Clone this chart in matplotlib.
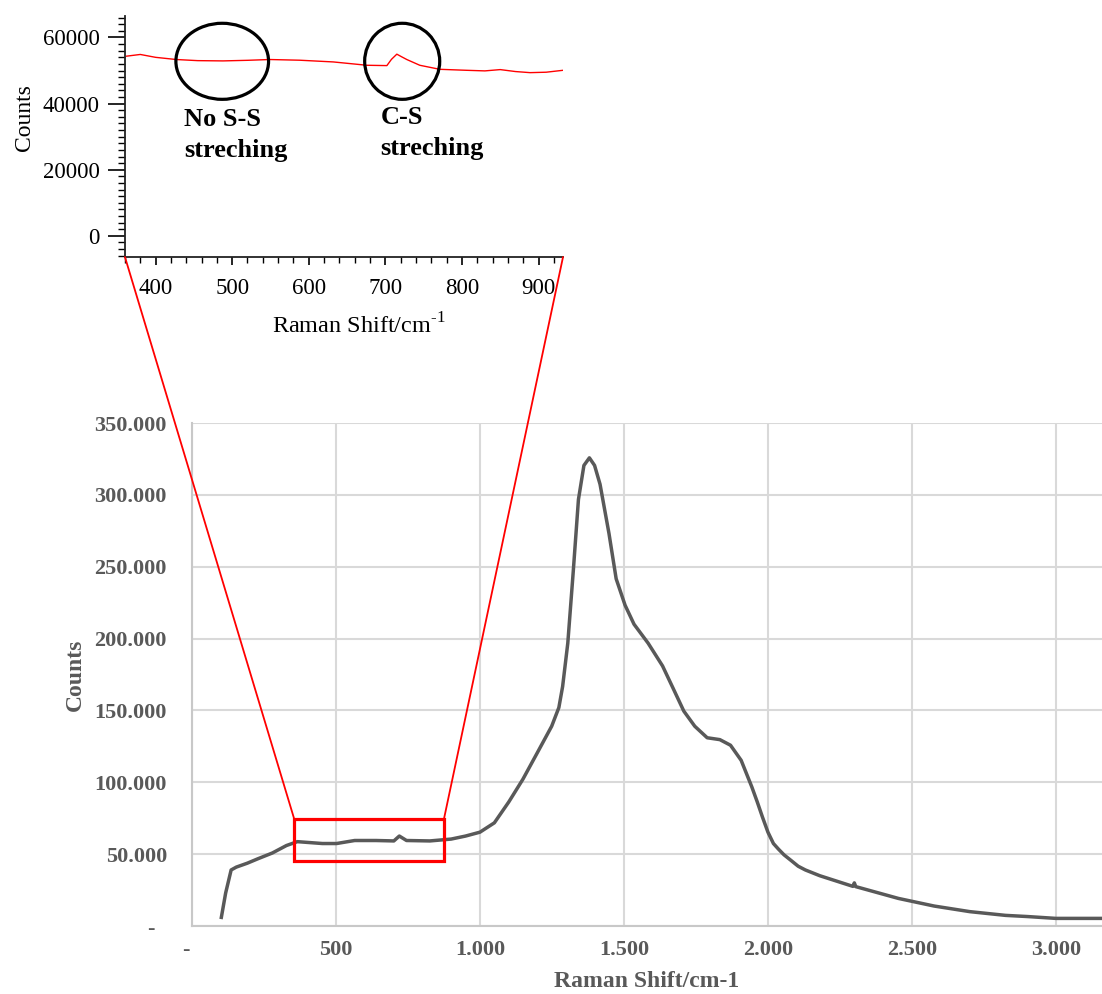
import matplotlib
matplotlib.use("Agg")
import matplotlib.pyplot as plt
from matplotlib.patches import Ellipse, Rectangle, ConnectionPatch
from matplotlib.ticker import MultipleLocator, FuncFormatter

plt.rcParams['font.family'] = ['Liberation Serif', 'DejaVu Serif']
plt.rcParams['mathtext.fontset'] = 'custom'
plt.rcParams['mathtext.rm'] = 'Liberation Serif'

# full Raman spectrum (main chart)
shift = [102, 117, 136, 154, 192, 229, 279, 328, 366, 453, 502, 565, 639, 701,
         720, 745, 826, 900, 950, 1000, 1050, 1100, 1149, 1199, 1249, 1274,
         1287, 1305, 1324, 1342, 1361, 1380, 1398, 1417, 1448, 1473, 1504,
         1535, 1584, 1634, 1671, 1708, 1746, 1789, 1833, 1870, 1907, 1944,
         1963, 1981, 2000, 2019, 2037, 2056, 2081, 2105, 2130, 2180, 2295,
         2300, 2305, 2453, 2577, 2701, 2825, 2900, 3000, 3160]
counts = [6000, 23000, 39000, 41000, 43700, 46800, 50800, 56000, 58700, 57400,
          57400, 59500, 59500, 59200, 62600, 59500, 59200, 60500, 62600, 65300,
          71800, 86300, 102100, 120500, 139000, 152000, 166600, 196800, 246800,
          296800, 320500, 325800, 320500, 307400, 273200, 241600, 223200,
          210000, 196800, 181000, 165300, 149500, 139000, 131000, 129700,
          125800, 115300, 96800, 86300, 75800, 65300, 57400, 53400, 49500,
          45500, 41600, 39000, 35000, 27600, 30000, 27400, 19200, 13900,
          10000, 7400, 6600, 5300, 5300]

# zoomed region 360-930 cm-1 (inset)
inset_shift = [362, 380, 400, 427, 455, 488, 520, 549, 588, 632, 676, 702,
               708, 715, 721, 728, 745, 771, 806, 830, 850, 870, 889, 910, 932]
inset_counts = [54350, 54870, 54000, 53340, 53000, 52920, 53100, 53340, 53130,
                52610, 51600, 51500, 53400, 54960, 54200, 53340, 51600, 50380,
                50080, 49900, 50290, 49700, 49370, 49500, 50080]

main_yticks = [0, 50000, 100000, 150000, 200000, 250000, 300000, 350000]
main_xticks = [0, 500, 1000, 1500, 2000, 2500, 3000]

grey = '#595959'

fig = plt.figure(figsize=(11.02, 9.94), dpi=100)

# main chart
ax = fig.add_axes([0.1742, 0.0684, 0.8258, 0.506])
ax.plot(shift, counts, color=grey, lw=2.5, solid_joinstyle='round')
ax.set_xlim(0, 3160)
ax.set_ylim(0, 350000)
ax.set_xticks(main_xticks)
ax.set_yticks(main_yticks)


def euro_fmt(v, pos):
    # zero shown as a dash, dots as thousands separator
    if v == 0:
        return '-  '
    return f'{v:,.0f}'.replace(',', '.')


ax.yaxis.set_major_formatter(FuncFormatter(euro_fmt))
ax.xaxis.set_major_formatter(FuncFormatter(euro_fmt))
ax.grid(True, color='#d9d9d9', lw=1.5)
ax.set_axisbelow(True)
for s in ['top', 'right']:
    ax.spines[s].set_visible(False)
for s in ['left', 'bottom']:
    ax.spines[s].set_color('#c8c8c8')
    ax.spines[s].set_linewidth(1.5)
ax.tick_params(axis='y', length=0, pad=18, labelsize=16, labelcolor=grey)
ax.tick_params(axis='x', length=0, pad=10, labelsize=16, labelcolor=grey)
for lab in ax.get_xticklabels() + ax.get_yticklabels():
    lab.set_fontweight('bold')
ax.set_xlabel('Raman Shift/cm-1', fontsize=17, fontweight='bold', color=grey)
ax.set_ylabel('Counts', fontsize=17, fontweight='bold', color=grey)
ax.xaxis.set_label_coords(0.5, -0.09)
ax.yaxis.set_label_coords(-0.117, 0.5)

# highlighted region
ax.add_patch(Rectangle((355, 45000), 520, 29500, fill=False,
                       edgecolor='red', lw=2.3, zorder=5))

# inset
ins = fig.add_axes([0.1134, 0.7414, 0.3975, 0.2425])
ins.plot(inset_shift, inset_counts, color='red', lw=1.0)
ins.set_xlim(360, 932)
ins.set_ylim(-6400, 66500)
ins.xaxis.set_major_locator(MultipleLocator(100))
ins.xaxis.set_minor_locator(MultipleLocator(20))
ins.yaxis.set_major_locator(MultipleLocator(20000))
ins.yaxis.set_minor_locator(MultipleLocator(2000))
for s in ['top', 'right']:
    ins.spines[s].set_visible(False)
for s in ['left', 'bottom']:
    ins.spines[s].set_color('#222222')
    ins.spines[s].set_linewidth(1.3)
ins.tick_params(axis='y', which='major', length=12, width=1.2, pad=6, labelsize=16.5)
ins.tick_params(axis='y', which='minor', length=5, width=1.0)
ins.tick_params(axis='x', which='major', length=6, width=1.2, pad=9, labelsize=16.5)
ins.tick_params(axis='x', which='minor', length=4, width=1.0)
ins.set_xlabel(r'Raman Shift/cm$^{\text{-1}}$', fontsize=17.5)
ins.set_ylabel('Counts', fontsize=17)
ins.xaxis.set_label_coords(0.535, -0.235)
ins.yaxis.set_label_coords(-0.205, 0.58)

ins.add_patch(Ellipse((487, 52800), 121, 23000, fill=False, edgecolor='black',
                      lw=2.3, clip_on=False, zorder=6))
ins.add_patch(Ellipse((722, 52800), 98, 23000, fill=False, edgecolor='black',
                      lw=2.3, clip_on=False, zorder=6))
ins.text(437, 38800, 'No S-S\nstreching', fontsize=19, fontweight='bold',
         va='top', ha='left', linespacing=1.45)
ins.text(694, 39300, 'C-S\nstreching', fontsize=19, fontweight='bold',
         va='top', ha='left', linespacing=1.45)

# connectors from inset to highlighted region
for xa, xb in [(0, 355), (1, 875)]:
    con = ConnectionPatch(xyA=(xa, 0), coordsA=ins.transAxes,
                          xyB=(xb, 74500), coordsB=ax.transData,
                          color='red', lw=1.3)
    fig.add_artist(con)

fig.savefig('out.png', dpi=100)
